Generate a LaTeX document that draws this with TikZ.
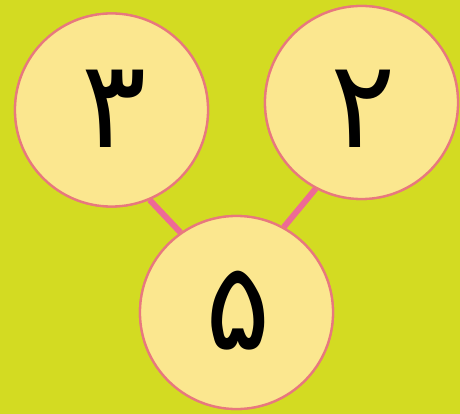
\documentclass[tikz,border=0pt]{standalone}
\usepackage{fontspec}
\newfontfamily\arabicfont[Script=Arabic]{DejaVu Sans}
\definecolor{bgc}{HTML}{D3DB22}
\definecolor{circfill}{HTML}{FBE78F}
\definecolor{circline}{HTML}{E8787E}
\definecolor{linkc}{HTML}{EE6A96}
\tikzset{digit/.style={font=\arabicfont\fontsize{122}{122}\selectfont,inner sep=0pt}}
\begin{document}
\begin{tikzpicture}[x=1pt,y=1pt,
  numcirc/.style={circle,draw=circline,line width=2.3pt,fill=circfill,minimum size=193pt,inner sep=0pt},
  link/.style={linkc,line width=6pt}]
\fill[bgc] (0,0) rectangle (460,-414);
\useasboundingbox (0,0) rectangle (460,-414);
\node[numcirc] (L) at (111.5,-110) {};
\node[numcirc] (R) at (361.5,-102.5) {};
\node[numcirc] (B) at (236.5,-312.5) {};
\draw[link] (L.-67) -- (B.125);
\draw[link] (R.-118) -- (B.61);
\node[numcirc] at (L) {};
\node[numcirc] at (R) {};
\node[numcirc] at (B) {};
\node[digit] (tL) at (114.5,-109) {۳};
\node[digit] (tR) at (363.5,-109) {۲};
\node[digit] (tB) at (238,-311) {۵};
\end{tikzpicture}
\end{document}
